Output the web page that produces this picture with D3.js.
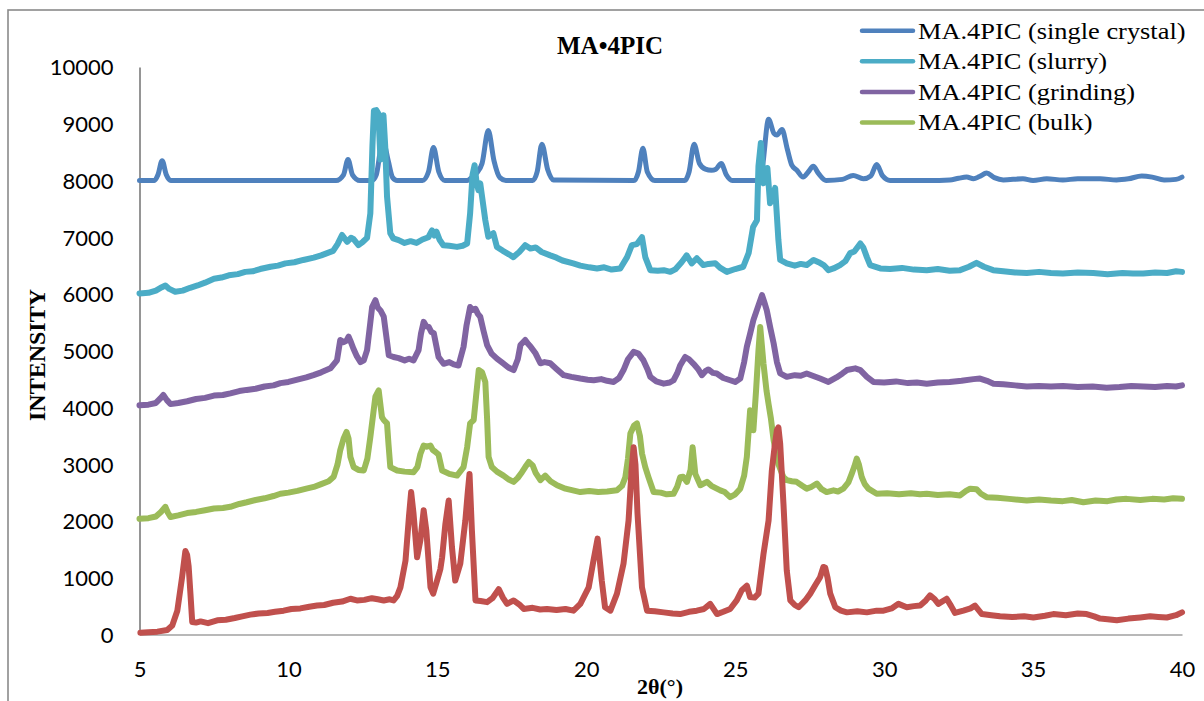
<!DOCTYPE html>
<html>
<head>
<meta charset="utf-8">
<script src="https://cdn.jsdelivr.net/npm/d3@7"></script>
<style>
  html, body { margin: 0; padding: 0; background: #fff; }
  svg { display: block; }
</style>
</head>
<body>
<svg id="chart" width="1204" height="701"></svg>
<script>
// Powder X-ray diffraction patterns, 2θ (degrees) vs. intensity (counts)
const seriesNames = [
  "MA.4PIC (single crystal)",
  "MA.4PIC (slurry)",
  "MA.4PIC (grinding)",
  "MA.4PIC (bulk)"
];
const seriesColors = ["#4F81BD", "#4BACC6", "#8064A2", "#9BBB59", "#C0504D"];

const xTicks = [5, 10, 15, 20, 25, 30, 35, 40];
const yTicks = [0, 1000, 2000, 3000, 4000, 5000, 6000, 7000, 8000, 9000, 10000];

const singleCrystal = [
  [5.0,8000],[5.5,8000],[5.62,8100],[5.76,8350],[5.9,8100],[6.05,8000],[11.6,8000],[11.85,8100],
  [12.0,8370],[12.15,8100],[12.4,8000],[12.8,8000],[12.95,8100],[13.1,8550],[13.2,8650],[13.35,8350],
  [13.5,8050],[13.65,8000],[14.5,8000],[14.7,8150],[14.87,8580],[15.05,8150],[15.25,8000],[16.0,8000],
  [16.2,8080],[16.35,8150],[16.5,8300],[16.71,8880],[16.9,8350],[17.1,8050],[17.3,8000],[18.2,8000],
  [18.35,8150],[18.51,8640],[18.7,8200],[18.9,8010],[21.6,8000],[21.75,8150],[21.9,8570],[22.05,8150],
  [22.3,8000],[23.3,8000],[23.45,8150],[23.62,8640],[23.8,8300],[24.0,8200],[24.2,8180],[24.35,8200],
  [24.53,8300],[24.7,8100],[24.9,8000],[25.7,8000],[25.9,8200],[26.12,9080],[26.3,8830],[26.4,8800],
  [26.57,8900],[26.75,8550],[26.9,8270],[27.07,8180],[27.28,8060],[27.45,8150],[27.62,8250],[27.8,8120],
  [28.05,8000],[28.6,8020],[28.96,8090],[29.3,8030],[29.55,8080],[29.75,8280],[29.95,8080],[30.2,8000],
  [31.5,8000],[32.2,8010],[32.5,8040],[32.77,8060],[33.0,8030],[33.2,8070],[33.44,8130],[33.7,8050],
  [34.0,8010],[34.66,8030],[35.0,8000],[35.46,8030],[36.0,8010],[36.5,8030],[37.25,8030],[37.8,8010],
  [38.2,8030],[38.65,8080],[39.0,8060],[39.4,8010],[39.8,8020],[40.0,8060]
];

const slurry = [
  [5.0,6010],[5.3,6020],[5.55,6060],[5.75,6120],[5.87,6150],[6.0,6090],[6.2,6040],[6.45,6060],
  [6.7,6110],[6.95,6150],[7.2,6200],[7.5,6270],[7.75,6290],[8.0,6330],[8.3,6350],[8.55,6390],
  [8.8,6400],[9.05,6440],[9.4,6480],[9.65,6500],[9.9,6540],[10.2,6560],[10.5,6600],[10.85,6640],
  [11.1,6680],[11.3,6720],[11.5,6760],[11.65,6880],[11.8,7040],[11.97,6920],[12.1,6990],[12.18,6970],
  [12.35,6860],[12.5,6920],[12.64,6990],[12.75,7420],[12.82,8600],[12.87,9230],[12.95,9240],[13.02,9180],
  [13.09,8370],[13.14,8900],[13.19,9150],[13.25,8600],[13.31,7720],[13.42,7070],[13.52,6980],[13.7,6950],
  [13.9,6900],[14.1,6930],[14.3,6900],[14.5,6960],[14.7,7000],[14.82,7120],[14.9,7030],[14.97,7100],
  [15.08,6950],[15.2,6860],[15.4,6850],[15.66,6830],[15.85,6850],[16.0,6890],[16.1,7420],[16.18,8100],
  [16.25,8270],[16.32,7950],[16.38,7830],[16.44,7950],[16.5,7720],[16.61,7300],[16.71,7010],[16.8,7040],
  [16.88,7070],[17.0,6830],[17.2,6760],[17.4,6700],[17.55,6650],[17.75,6740],[17.95,6860],[18.12,6800],
  [18.3,6820],[18.5,6740],[18.79,6680],[19.0,6640],[19.2,6590],[19.56,6540],[19.8,6500],[20.1,6470],
  [20.36,6450],[20.6,6470],[20.85,6430],[21.14,6450],[21.37,6650],[21.53,6860],[21.7,6880],[21.87,7000],
  [21.98,6650],[22.15,6420],[22.4,6410],[22.6,6420],[22.82,6390],[23.0,6440],[23.2,6560],[23.37,6680],
  [23.54,6540],[23.71,6630],[23.93,6510],[24.1,6530],[24.33,6540],[24.5,6460],[24.72,6390],[25.0,6440],
  [25.27,6480],[25.45,6720],[25.6,7180],[25.73,7300],[25.78,8250],[25.86,8660],[25.95,7950],[26.08,8220],
  [26.17,7600],[26.27,7700],[26.34,7870],[26.45,6950],[26.51,6600],[26.73,6540],[27.0,6500],[27.2,6530],
  [27.4,6510],[27.63,6600],[27.8,6560],[27.97,6510],[28.13,6420],[28.3,6450],[28.52,6510],[28.7,6580],
  [28.86,6720],[29.0,6750],[29.2,6890],[29.3,6820],[29.42,6650],[29.53,6510],[29.87,6450],[30.2,6440],
  [30.6,6460],[31.0,6430],[31.43,6420],[31.8,6440],[32.2,6410],[32.55,6420],[32.85,6480],[33.1,6550],
  [33.35,6480],[33.66,6420],[34.0,6400],[34.4,6380],[34.79,6370],[35.2,6390],[35.6,6370],[36.0,6360],
  [36.5,6380],[37.02,6370],[37.5,6350],[38.0,6370],[38.35,6360],[38.7,6360],[39.1,6380],[39.5,6370],
  [39.8,6400],[40.0,6390]
];

const grinding = [
  [5.0,4040],[5.3,4050],[5.55,4080],[5.7,4160],[5.8,4220],[5.92,4130],[6.04,4060],[6.3,4080],
  [6.6,4110],[6.9,4150],[7.2,4170],[7.5,4210],[7.8,4220],[8.05,4250],[8.35,4290],[8.6,4310],
  [8.9,4330],[9.2,4370],[9.5,4390],[9.73,4430],[10.0,4450],[10.3,4490],[10.6,4530],[10.84,4570],
  [11.1,4620],[11.41,4690],[11.63,4830],[11.74,5190],[11.85,5150],[11.95,5180],[12.02,5250],[12.1,5150],
  [12.18,5040],[12.3,4900],[12.42,4800],[12.53,4830],[12.64,5010],[12.75,5500],[12.81,5770],[12.92,5890],
  [13.0,5760],[13.09,5710],[13.2,5600],[13.3,5200],[13.37,4920],[13.53,4890],[13.7,4870],[13.9,4830],
  [14.05,4860],[14.2,4830],[14.37,5010],[14.45,5300],[14.54,5510],[14.63,5430],[14.71,5420],[14.8,5330],
  [14.88,5310],[14.96,5100],[15.04,4890],[15.21,4770],[15.4,4800],[15.55,4760],[15.71,4740],[15.88,5070],
  [15.98,5450],[16.1,5770],[16.2,5720],[16.28,5740],[16.36,5650],[16.44,5600],[16.55,5350],[16.67,5100],
  [16.82,4950],[17.0,4860],[17.2,4780],[17.4,4700],[17.56,4660],[17.7,4850],[17.79,5100],[17.95,5190],
  [18.05,5120],[18.12,5080],[18.3,4950],[18.46,4780],[18.6,4800],[18.79,4780],[19.0,4680],[19.24,4570],
  [19.5,4540],[19.8,4510],[20.05,4490],[20.25,4480],[20.5,4500],[20.7,4470],[20.92,4450],[21.1,4520],
  [21.25,4660],[21.4,4850],[21.59,4980],[21.75,4950],[21.92,4830],[22.05,4680],[22.15,4540],[22.35,4460],
  [22.6,4420],[22.8,4440],[22.93,4480],[23.05,4600],[23.15,4740],[23.32,4890],[23.45,4850],[23.6,4770],
  [23.75,4680],[23.88,4570],[24.0,4640],[24.1,4670],[24.25,4610],[24.38,4600],[24.6,4520],[24.83,4480],
  [25.0,4450],[25.17,4510],[25.3,4800],[25.39,5070],[25.5,5300],[25.61,5540],[25.78,5800],[25.9,5980],
  [25.98,5850],[26.06,5710],[26.18,5400],[26.29,5130],[26.4,4800],[26.51,4600],[26.73,4540],[27.0,4570],
  [27.2,4560],[27.4,4600],[27.6,4560],[27.85,4510],[28.13,4450],[28.4,4530],[28.6,4600],[28.75,4660],
  [29.03,4690],[29.2,4660],[29.42,4540],[29.64,4450],[30.0,4440],[30.4,4460],[30.8,4430],[31.1,4440],
  [31.43,4420],[31.8,4440],[32.2,4450],[32.6,4470],[33.0,4500],[33.22,4510],[33.45,4470],[33.67,4420],
  [34.0,4410],[34.4,4390],[34.79,4370],[35.2,4380],[35.6,4370],[36.0,4380],[36.5,4360],[37.0,4370],
  [37.47,4350],[37.9,4360],[38.3,4380],[38.7,4370],[39.1,4360],[39.5,4380],[39.8,4370],[40.0,4390]
];

const bulk = [
  [5.0,2040],[5.3,2050],[5.55,2080],[5.72,2160],[5.87,2250],[5.95,2150],[6.04,2070],[6.3,2100],
  [6.6,2140],[6.9,2160],[7.2,2190],[7.5,2220],[7.8,2230],[8.05,2250],[8.35,2300],[8.6,2330],
  [8.9,2370],[9.2,2400],[9.5,2440],[9.73,2480],[10.0,2500],[10.3,2530],[10.6,2570],[10.85,2600],
  [11.1,2650],[11.35,2700],[11.52,2780],[11.65,3000],[11.74,3250],[11.85,3450],[11.95,3570],[12.02,3450],
  [12.08,3130],[12.19,2950],[12.35,2900],[12.53,2890],[12.65,3100],[12.75,3480],[12.85,3900],[12.92,4190],
  [13.03,4300],[13.1,4000],[13.14,3830],[13.2,3780],[13.31,3720],[13.36,3350],[13.42,2950],[13.65,2890],
  [13.9,2870],[14.2,2860],[14.33,2950],[14.43,3180],[14.54,3330],[14.65,3310],[14.77,3330],[14.85,3250],
  [14.93,3220],[15.04,3170],[15.16,2890],[15.4,2830],[15.66,2800],[15.88,2950],[16.0,3300],[16.1,3720],
  [16.22,3780],[16.3,4200],[16.39,4660],[16.5,4620],[16.61,4450],[16.67,3800],[16.72,3130],[16.83,2950],
  [17.0,2870],[17.22,2800],[17.4,2730],[17.56,2690],[17.7,2760],[17.84,2860],[17.95,2950],[18.07,3040],
  [18.2,2980],[18.3,2850],[18.46,2720],[18.62,2800],[18.8,2700],[19.02,2630],[19.3,2570],[19.55,2540],
  [19.8,2510],[20.1,2530],[20.4,2510],[20.7,2520],[21.03,2540],[21.2,2620],[21.31,2770],[21.4,3100],
  [21.48,3540],[21.6,3680],[21.7,3720],[21.8,3500],[21.87,3190],[21.98,2950],[22.09,2770],[22.26,2510],
  [22.5,2500],[22.7,2470],[22.93,2480],[23.05,2600],[23.15,2770],[23.25,2780],[23.38,2690],[23.5,2900],
  [23.57,3300],[23.66,2830],[23.83,2630],[24.05,2690],[24.2,2620],[24.35,2580],[24.5,2540],[24.65,2510],
  [24.83,2420],[25.0,2470],[25.17,2570],[25.3,2800],[25.39,3130],[25.5,3950],[25.61,3600],[25.7,4300],
  [25.78,5000],[25.84,5420],[25.95,4770],[26.05,4300],[26.12,4060],[26.2,3800],[26.29,3420],[26.45,3000],
  [26.62,2770],[26.73,2720],[26.9,2700],[27.06,2690],[27.25,2620],[27.4,2570],[27.55,2600],[27.74,2660],
  [27.9,2560],[28.07,2510],[28.3,2540],[28.45,2520],[28.63,2570],[28.8,2680],[28.91,2830],[29.0,2960],
  [29.08,3100],[29.15,3000],[29.25,2770],[29.35,2650],[29.47,2570],[29.75,2480],[30.1,2490],[30.5,2470],
  [30.9,2490],[31.2,2470],[31.43,2480],[31.8,2460],[32.2,2470],[32.55,2450],[32.75,2530],[32.89,2570],
  [33.1,2560],[33.25,2480],[33.44,2420],[33.8,2410],[34.2,2390],[34.79,2360],[35.2,2380],[35.6,2360],
  [36.0,2350],[36.3,2370],[36.69,2330],[37.1,2360],[37.5,2350],[37.8,2380],[38.14,2390],[38.6,2370],
  [39.0,2390],[39.4,2380],[39.7,2400],[40.0,2390]
];

const fifthTrace = [
  [5.03,30],[5.3,40],[5.6,50],[5.93,80],[6.1,160],[6.27,420],[6.43,1010],[6.54,1470],
  [6.6,1400],[6.65,1200],[6.71,720],[6.77,220],[6.9,210],[7.05,230],[7.3,200],[7.61,250],
  [7.9,260],[8.2,290],[8.45,320],[8.72,350],[9.0,370],[9.3,380],[9.55,400],[9.84,420],
  [10.1,450],[10.4,460],[10.7,490],[10.96,510],[11.2,520],[11.5,560],[11.8,580],[12.08,630],
  [12.3,600],[12.55,610],[12.8,640],[13.0,620],[13.2,600],[13.4,620],[13.53,600],[13.65,680],
  [13.76,830],[13.93,1300],[14.05,2100],[14.12,2510],[14.2,2130],[14.32,1360],[14.43,1660],[14.54,2190],
  [14.63,1830],[14.77,830],[14.86,720],[14.99,950],[15.1,1150],[15.16,1360],[15.27,1950],[15.38,2360],
  [15.49,1540],[15.6,950],[15.77,1250],[15.94,2010],[16.02,2500],[16.08,2830],[16.16,1830],[16.28,600],
  [16.45,590],[16.67,570],[16.85,640],[17.06,800],[17.2,650],[17.34,540],[17.56,600],[17.75,530],
  [17.9,450],[18.2,470],[18.45,440],[18.68,450],[19.0,430],[19.3,450],[19.57,420],[19.8,540],
  [20.08,830],[20.24,1300],[20.38,1690],[20.52,950],[20.63,480],[20.81,420],[21.03,720],[21.25,1250],
  [21.42,2010],[21.52,2900],[21.59,3300],[21.65,3000],[21.72,2130],[21.87,830],[22.04,420],[22.3,410],
  [22.6,390],[22.9,370],[23.15,360],[23.45,400],[23.71,420],[23.95,450],[24.16,540],[24.39,360],
  [24.6,400],[24.83,450],[25.05,600],[25.22,780],[25.39,860],[25.5,660],[25.65,650],[25.78,720],
  [25.95,1420],[26.12,2010],[26.23,2890],[26.32,3300],[26.4,3600],[26.45,3650],[26.51,3360],[26.62,2300],
  [26.73,1130],[26.85,600],[27.0,520],[27.13,480],[27.35,600],[27.52,720],[27.7,880],[27.85,1010],
  [27.96,1190],[28.02,1180],[28.1,1000],[28.19,720],[28.36,480],[28.55,420],[28.75,390],[29.1,410],
  [29.42,390],[29.75,420],[29.98,420],[30.25,460],[30.48,540],[30.76,480],[31.0,500],[31.21,510],
  [31.4,600],[31.54,690],[31.7,620],[31.82,540],[32.1,630],[32.25,500],[32.38,380],[32.66,420],
  [32.9,460],[33.05,510],[33.28,360],[33.6,340],[33.89,320],[34.3,310],[34.7,320],[35.01,300],
  [35.4,330],[35.68,360],[36.1,340],[36.5,370],[36.8,360],[37.05,320],[37.25,280],[37.5,270],
  [37.81,250],[38.2,280],[38.6,300],[38.93,320],[39.2,310],[39.49,300],[39.8,340],[40.0,390]
];

// Draw order: first series at the back, last on top
const traces = [singleCrystal, slurry, grinding, bulk, fifthTrace];

const svg = d3.select("#chart");

// Outer chart border
svg.append("rect")
  .attr("x", 8).attr("y", 10)
  .attr("width", 1400).attr("height", 900)
  .attr("fill", "none")
  .attr("stroke", "#8a8a8a")
  .attr("stroke-width", 1.6);

const x = d3.scaleLinear().domain([5, 40]).range([139.5, 1182]);
const y = d3.scaleLinear().domain([0, 10000]).range([634.5, 67]);

const tickFont = "Lato, 'Liberation Sans', Arial, sans-serif";

// Y axis
const yAxis = svg.append("g")
  .attr("transform", `translate(${x.range()[0]},0)`)
  .call(d3.axisLeft(y).tickValues(yTicks).tickSize(0).tickPadding(26).tickFormat(d3.format("d")));
yAxis.select(".domain").attr("stroke", "#8a8a8a").attr("stroke-width", 1.8);
yAxis.selectAll("text")
  .attr("font-family", tickFont).attr("font-size", 22).attr("fill", "#000")
  .attr("dy", "0.36em");

// X axis
const xAxis = svg.append("g")
  .attr("transform", `translate(0,${y.range()[0]})`)
  .call(d3.axisBottom(x).tickValues(xTicks).tickSize(0).tickPadding(27).tickFormat(d3.format("d")));
xAxis.select(".domain").attr("stroke", "#a0a0a0").attr("stroke-width", 1.5);
xAxis.selectAll("text")
  .attr("font-family", tickFont).attr("font-size", 22).attr("fill", "#000");

// Traces
const line = d3.line()
  .x(d => x(d[0]))
  .y(d => y(d[1]));

svg.append("g").selectAll("path")
  .data(traces)
  .join("path")
  .attr("d", (d, i) => line.curve(i === 0 ? d3.curveMonotoneX : d3.curveLinear)(d))
  .attr("fill", "none")
  .attr("stroke", (d, i) => seriesColors[i])
  .attr("stroke-width", (d, i) => i === 0 ? 5 : 6)
  .attr("stroke-linejoin", "round")
  .attr("stroke-linecap", "round");

// Title
svg.append("text")
  .attr("x", 610).attr("y", 54)
  .attr("text-anchor", "middle")
  .attr("font-family", "'Liberation Serif', 'Times New Roman', serif")
  .attr("font-weight", "bold")
  .attr("font-size", 25)
  .text("MA•4PIC");

// Axis titles
svg.append("text")
  .attr("transform", "translate(37,355) rotate(-90)")
  .attr("text-anchor", "middle")
  .attr("dominant-baseline", "central")
  .attr("font-family", "'Liberation Serif', 'Times New Roman', serif")
  .attr("font-weight", "bold")
  .attr("font-size", 24)
  .text("INTENSITY");

svg.append("text")
  .attr("x", 660).attr("y", 694)
  .attr("text-anchor", "middle")
  .attr("font-family", "'Liberation Serif', 'Times New Roman', serif")
  .attr("font-weight", "bold")
  .attr("font-size", 22)
  .text("2θ(°)");

// Legend
const legend = svg.append("g");
const rows = legend.selectAll("g")
  .data(seriesNames)
  .join("g")
  .attr("transform", (d, i) => `translate(0,${30.7 + i * 30.6})`);
rows.append("line")
  .attr("x1", 862).attr("x2", 913)
  .attr("stroke", (d, i) => seriesColors[i])
  .attr("stroke-width", 4.5)
  .attr("stroke-linecap", "round");
rows.append("text")
  .attr("transform", "translate(918,0) scale(1.1,1)")
  .attr("dy", "0.33em")
  .attr("font-family", "'Liberation Serif', 'Times New Roman', serif")
  .attr("font-size", 24)
  .text(d => d);
</script>
</body>
</html>
